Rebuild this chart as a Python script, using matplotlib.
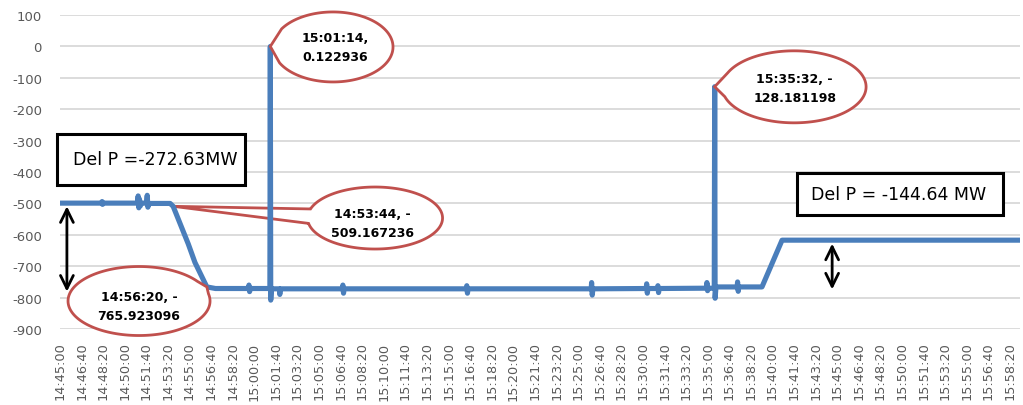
import matplotlib
matplotlib.use("Agg")
import matplotlib.pyplot as plt
import matplotlib.transforms as mtransforms
from matplotlib.path import Path
from matplotlib.patches import PathPatch, Rectangle
import numpy as np

# ---- measured active power (MW) at the recorded instants ----
sample_times = [
    "14:45:00", "14:48:13", "14:48:15", "14:48:17", "14:48:19",
    "14:50:58", "14:51:02", "14:51:05", "14:51:08", "14:51:12", "14:51:16",
    "14:51:40", "14:51:44", "14:51:47", "14:51:50", "14:53:30", "14:53:44",
    "14:54:54", "14:55:25", "14:56:20", "14:57:00",
    "14:59:33", "14:59:35", "14:59:38", "14:59:41",
    "15:01:12", "15:01:14", "15:01:16", "15:01:19",
    "15:01:56", "15:01:58", "15:02:01",
    "15:06:48", "15:06:50", "15:06:53", "15:06:56",
    "15:16:22", "15:16:24", "15:16:27", "15:16:30",
    "15:26:00", "15:26:02", "15:26:05", "15:26:08",
    "15:30:15", "15:30:17", "15:30:20", "15:30:23",
    "15:31:07", "15:31:09", "15:31:12", "15:31:15",
    "15:34:54", "15:34:56", "15:34:59", "15:35:02",
    "15:35:30", "15:35:32", "15:35:34", "15:35:38",
    "15:37:16", "15:37:18", "15:37:21", "15:37:24",
    "15:39:11", "15:40:44", "15:59:06",
]
sample_mw = [
    -499, -499, -494, -503, -499,
    -499, -476, -514, -486, -508, -499,
    -499, -474, -512, -500, -500, -509.167236,
    -629, -688, -765.923096, -771,
    -771, -760, -781, -771,
    -771, 0.122936, -808, -772,
    -772, -790, -772,
    -772, -760, -786, -772,
    -772, -762, -786, -772,
    -772, -752, -792, -772,
    -771, -756, -786, -771,
    -771, -762, -784, -771,
    -770, -752, -778, -770,
    -770, -128.181198, -802, -766,
    -766, -750, -780, -766,
    -766, -617, -617,
]

tick_labels = [
    "14:45:00", "14:46:40", "14:48:20", "14:50:00", "14:51:40", "14:53:20",
    "14:55:00", "14:56:40", "14:58:20", "15:00:00", "15:01:40", "15:03:20",
    "15:05:00", "15:06:40", "15:08:20", "15:10:00", "15:11:40", "15:13:20",
    "15:15:00", "15:16:40", "15:18:20", "15:20:00", "15:21:40", "15:23:20",
    "15:25:00", "15:26:40", "15:28:20", "15:30:00", "15:31:40", "15:33:20",
    "15:35:00", "15:36:40", "15:38:20", "15:40:00", "15:41:40", "15:43:20",
    "15:45:00", "15:46:40", "15:48:20", "15:50:00", "15:51:40", "15:53:20",
    "15:55:00", "15:56:40", "15:58:20",
]
y_ticks = [100, 0, -100, -200, -300, -400, -500, -600, -700, -800, -900]

# highlighted samples (callouts)
callout_times = ["15:01:14", "14:53:44", "14:56:20", "15:35:32"]
callout_mw = [0.122936, -509.167236, -765.923096, -128.181198]

box_texts = ["Del P =-272.63MW", "Del P = -144.64 MW"]


def to_sec(t):
    h, m, s = (int(p) for p in t.split(":"))
    return (h * 3600 + m * 60 + s) - (14 * 3600 + 45 * 60)


W, H = 1023, 406
fig = plt.figure(figsize=(W / 100, H / 100), dpi=100)
ax = fig.add_axes([60 / W, 1 - 330 / H, (1020 - 60) / W, (330 - 16.1) / H])

x = np.array([to_sec(t) for t in sample_times])
y = np.array(sample_mw)

line_blue = "#4a7ebb"
grid_grey = "#d9d9d9"
label_grey = "#595959"
callout_red = "#c0504d"

ax.plot(x, y, color=line_blue, lw=3.7, solid_joinstyle="round", zorder=3)

ax.set_xlim(0, 4446)
ax.set_ylim(-900, 100)
tick_pos = [to_sec(t) for t in tick_labels]
ax.set_xticks(tick_pos)
ax.set_xticklabels(tick_labels, rotation=90, fontsize=9.3, color=label_grey)
ax.set_yticks(y_ticks)
ax.set_yticklabels([str(v) for v in y_ticks], fontsize=9.5, color=label_grey)
ax.tick_params(axis="both", length=0)
ax.tick_params(axis="y", pad=13)
ax.tick_params(axis="x", pad=9)
for sp in ax.spines.values():
    sp.set_visible(False)
ax.grid(axis="y", color=grid_grey, lw=1.3, zorder=0)
ax.set_axisbelow(True)


def callout(t, v, cdx, cdy, w, h, a_lo, a_hi, tdx, tdy, z):
    """Ellipse callout with a pointer to (t, v); offsets in pixels, y up."""
    tx = to_sec(t)
    trans = fig.dpi_scale_trans + mtransforms.ScaledTranslation(tx, v, ax.transData)
    th = np.radians(np.linspace(a_hi, a_lo + 360, 240))
    ex = (cdx + w / 2 * np.cos(th)) / 100
    ey = (cdy + h / 2 * np.sin(th)) / 100
    verts = list(zip(ex, ey)) + [(0, 0), (ex[0], ey[0])]
    codes = [Path.MOVETO] + [Path.LINETO] * (len(verts) - 2) + [Path.CLOSEPOLY]
    ax.add_patch(PathPatch(Path(verts, codes), transform=trans, fc="white",
                           ec=callout_red, lw=2.0, zorder=z, clip_on=False))
    if v < 0:
        label = f"{t}, -\n{abs(v):.6f}"
    else:
        label = f"{t},\n{v:.6f}"
    ax.annotate(label, xy=(tx, v), xytext=(tdx * 0.72, tdy * 0.72),
                textcoords="offset points", ha="center", va="center",
                fontsize=9, fontweight="bold", linespacing=1.6,
                zorder=z + 0.1, annotation_clip=False)


callout(callout_times[0], callout_mw[0], 62.7, -0.5, 120, 70, 149, 207, 65, -1, 6)
callout(callout_times[1], callout_mw[1], 201.9, -11.7, 135, 62, 163, 190, 199, -16.7, 2)
callout(callout_times[2], callout_mw[2], -67.8, -14.1, 142, 69, 12, 35, -68, -19, 6)
callout(callout_times[3], callout_mw[3], 79.4, -0.1, 144, 72, 157, 196, 80, -1.6, 6)

# text boxes for the power change
boxes = [(-14, 857, -441, -279, 440), (3414, 4368, -537, -403, 3884)]
for (x0, x1, y0, y1, xt), txt in zip(boxes, box_texts):
    ax.add_patch(Rectangle((x0, y0), x1 - x0, y1 - y0, fc="white", ec="black",
                           lw=2.2, zorder=7, clip_on=False))
    ax.text(xt, (y0 + y1) / 2, txt, ha="center", va="center", fontsize=12.5,
            zorder=8, clip_on=False)

# double-headed arrows marking the step size
arrows = [(32, -509, -781), (3576, -628, -774)]
for xa, ya, yb in arrows:
    ax.annotate("", xy=(xa, ya), xytext=(xa, yb),
                arrowprops=dict(arrowstyle="<->,head_length=0.67,head_width=0.33",
                                mutation_scale=14, lw=2, color="black",
                                shrinkA=0, shrinkB=0),
                zorder=8, annotation_clip=False)

fig.savefig("out.png", dpi=100)
